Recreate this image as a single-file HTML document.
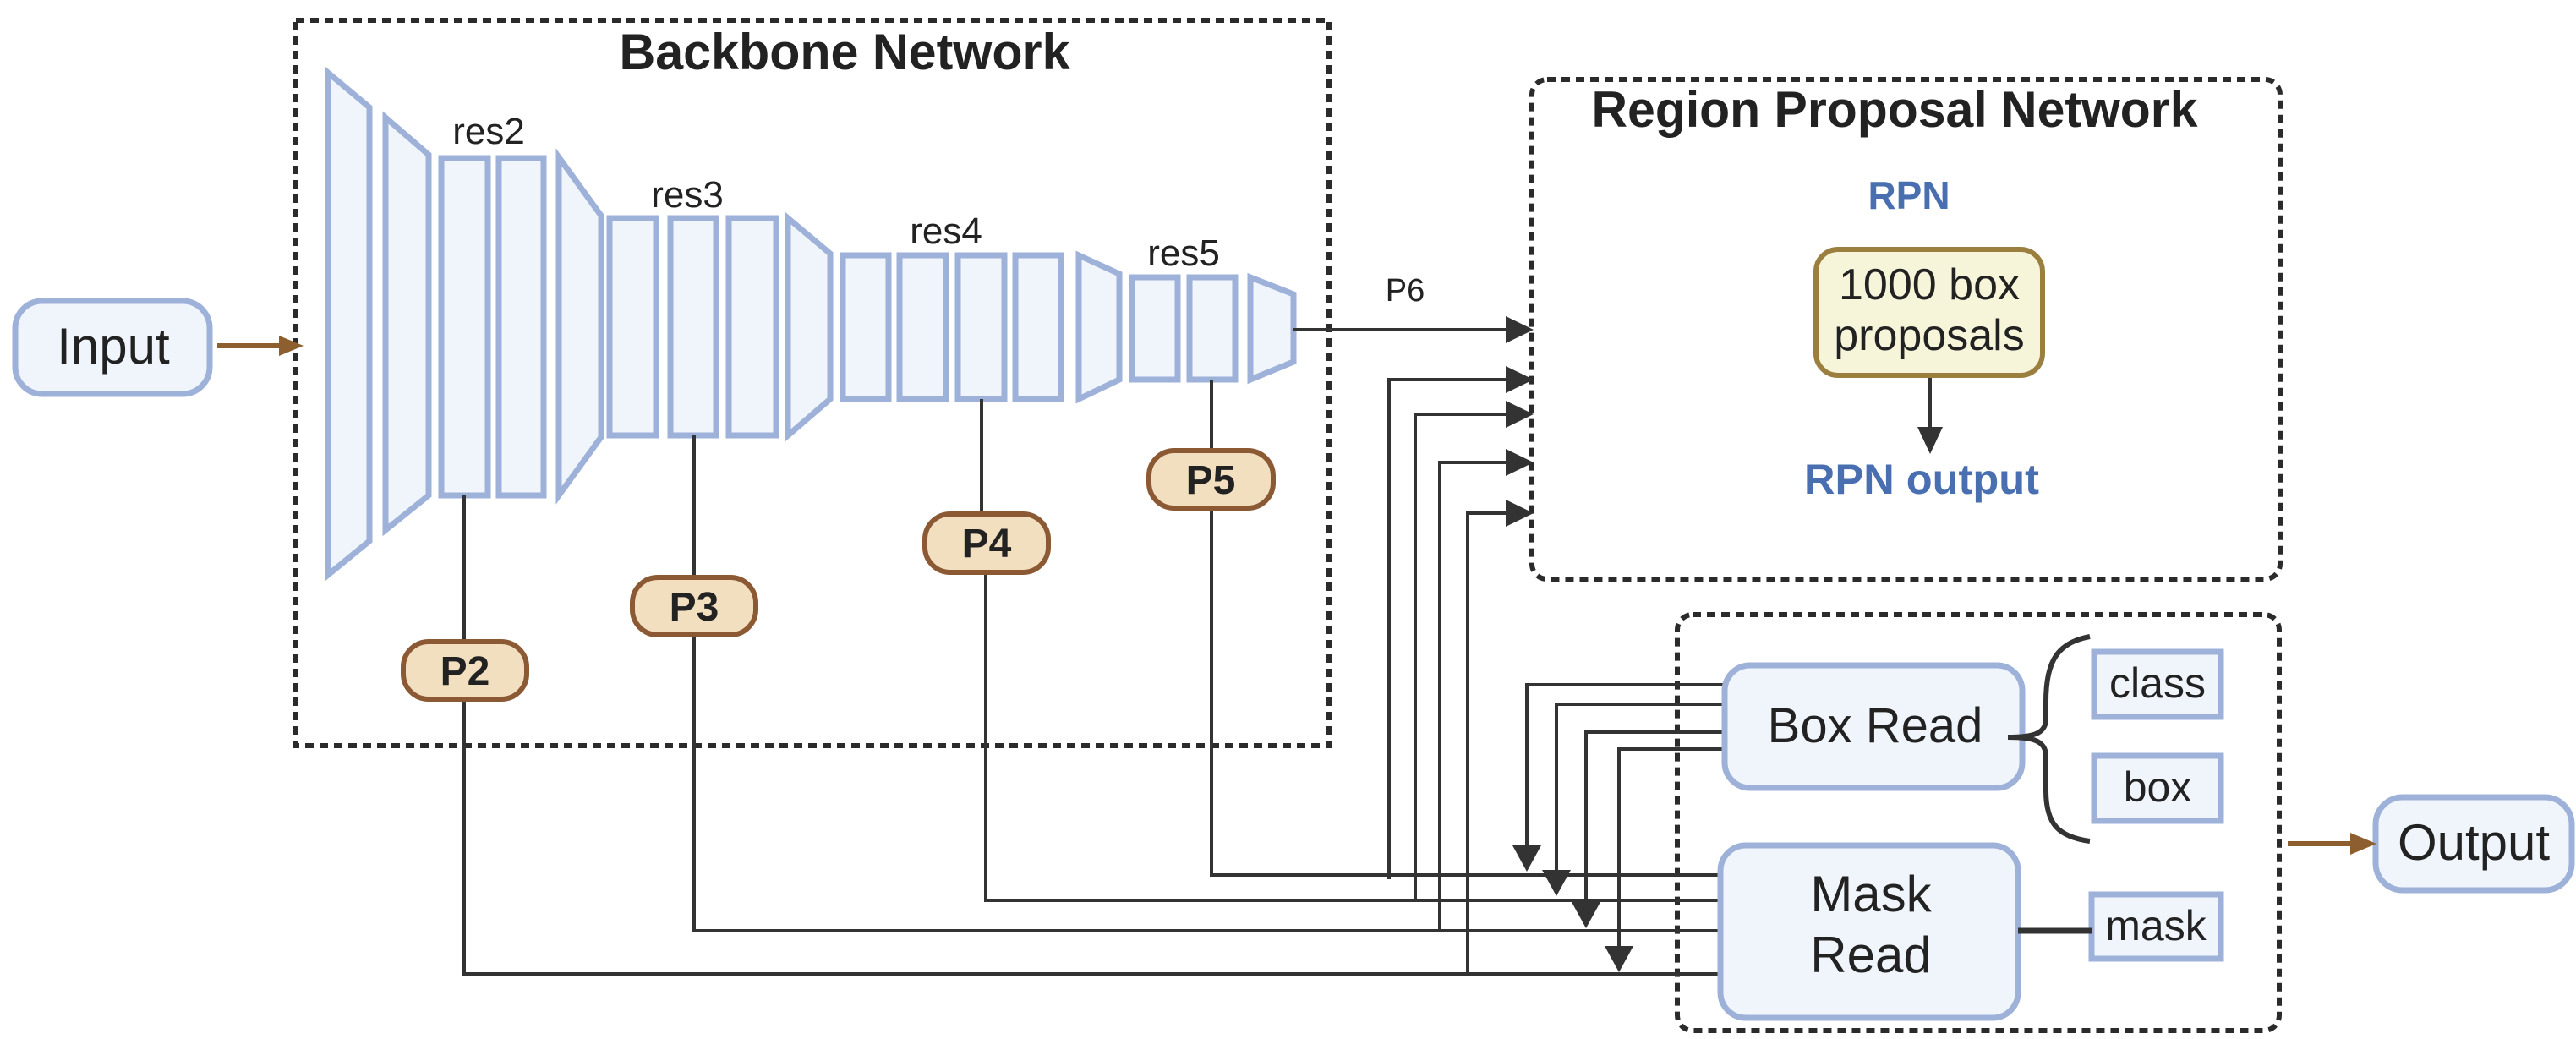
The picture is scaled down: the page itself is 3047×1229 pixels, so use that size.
<!DOCTYPE html>
<html><head><meta charset="utf-8"><style>
html,body{margin:0;padding:0;background:#fff;}
svg{display:block;}
text{font-family:"Liberation Sans",sans-serif;fill:#222;}
</style></head><body>
<svg width="3047" height="1229" viewBox="0 0 3047 1229" xmlns="http://www.w3.org/2000/svg">
<g fill="none" stroke="#2b2b2b" stroke-width="6" stroke-dasharray="10 7">
<rect x="350" y="24" width="1222" height="858"/>
<rect x="1812" y="94" width="885" height="591" rx="18"/>
<rect x="1984" y="727" width="712" height="492" rx="18"/>
</g>
<text x="999" y="82" font-size="60" font-weight="bold" text-anchor="middle" textLength="533" lengthAdjust="spacingAndGlyphs">Backbone Network</text>
<text x="2241" y="150" font-size="60" font-weight="bold" text-anchor="middle" textLength="717" lengthAdjust="spacingAndGlyphs">Region Proposal Network</text>

<g fill="#eff5fb" stroke="#9db1d9" stroke-width="7" stroke-linejoin="miter">
<polygon points="388,86 437,127 437,640 388,680"/>
<polygon points="456,139 507,183 507,586 456,627"/>
<rect x="522" y="187" width="55" height="399"/>
<rect x="590" y="187" width="53" height="399"/>
<polygon points="661,186 711,255 711,517 661,586"/>
<rect x="721" y="258" width="55" height="257"/>
<rect x="793" y="258" width="54" height="257"/>
<rect x="862" y="258" width="56" height="257"/>
<polygon points="932,258 982,300 982,472 932,515"/>
<rect x="997" y="302" width="54" height="170"/>
<rect x="1064" y="302" width="55" height="170"/>
<rect x="1133" y="302" width="55" height="170"/>
<rect x="1201" y="302" width="54" height="170"/>
<polygon points="1276,302 1324,324 1324,449 1276,472"/>
<rect x="1339" y="328" width="54" height="121"/>
<rect x="1407" y="328" width="54" height="121"/>
<polygon points="1479,328 1530,348 1530,428 1479,449"/>
</g>
<g font-size="44" text-anchor="middle">
<text x="578" y="170">res2</text>
<text x="813" y="245">res3</text>
<text x="1119" y="288">res4</text>
<text x="1400" y="314">res5</text>
</g>

<rect x="18" y="356" width="230" height="110" rx="32" fill="#eff5fb" stroke="#9db1d9" stroke-width="7"/>
<text x="134" y="430" font-size="60" text-anchor="middle">Input</text>
<line x1="257" y1="409" x2="335" y2="409" stroke="#8e5f2e" stroke-width="6"/>
<polygon points="330,397 359,409 330,421" fill="#8e5f2e"/>

<g stroke="#333" stroke-width="4" fill="none">
<line x1="549" y1="586" x2="549" y2="757"/>
<polyline points="549,828 549,1152 2033,1152"/>
<line x1="821" y1="515" x2="821" y2="681"/>
<polyline points="821,753 821,1101 2033,1101"/>
<line x1="1161" y1="472" x2="1161" y2="606"/>
<polyline points="1166,679 1166,1065 2033,1065"/>
<line x1="1433" y1="449" x2="1433" y2="531"/>
<polyline points="1433,603 1433,1035 2033,1035"/>
<line x1="1530" y1="390" x2="1785" y2="390"/>
<polyline points="1643,1040 1643,449 1785,449"/>
<polyline points="1674,1065 1674,490 1785,490"/>
<polyline points="1703,1101 1703,547 1785,547"/>
<polyline points="1736,1152 1736,607 1785,607"/>
<polyline points="2038,810 1806,810 1806,1005"/>
<polyline points="2038,833 1841,833 1841,1035"/>
<polyline points="2038,866 1876,866 1876,1072"/>
<polyline points="2038,886 1915,886 1915,1122"/>
<line x1="2283" y1="445" x2="2283" y2="510"/>
</g>
<g fill="#333">
<polygon points="1781,374 1814,390 1781,406"/>
<polygon points="1781,433 1814,449 1781,465"/>
<polygon points="1781,474 1814,490 1781,506"/>
<polygon points="1781,531 1814,547 1781,563"/>
<polygon points="1781,591 1814,607 1781,623"/>
<polygon points="1789,1000 1823,1000 1806,1031"/>
<polygon points="1824,1029 1858,1029 1841,1060"/>
<polygon points="1859,1067 1893,1067 1876,1098"/>
<polygon points="1898,1119 1932,1119 1915,1150"/>
<polygon points="2268,505 2298,505 2283,537"/>
</g>
<text x="1662" y="356" font-size="38" text-anchor="middle">P6</text>

<g fill="#f2dfc0" stroke="#8b5a35" stroke-width="6">
<rect x="477" y="759" width="146" height="68" rx="30"/>
<rect x="748" y="683" width="146" height="68" rx="30"/>
<rect x="1094" y="608" width="146" height="69" rx="30"/>
<rect x="1359" y="533" width="147" height="68" rx="30"/>
</g>
<g font-size="48" font-weight="bold" text-anchor="middle">
<text x="550" y="810">P2</text>
<text x="821" y="734">P3</text>
<text x="1167" y="659">P4</text>
<text x="1432" y="584">P5</text>
</g>

<text x="2258" y="247" font-size="46" font-weight="bold" text-anchor="middle" style="fill:#4a6fb0">RPN</text>
<rect x="2148" y="295" width="268" height="149" rx="26" fill="#f6f5da" stroke="#9a7f3e" stroke-width="6"/>
<text x="2282" y="354" font-size="52" text-anchor="middle">1000 box</text>
<text x="2282" y="414" font-size="52" text-anchor="middle">proposals</text>
<text x="2273" y="584" font-size="50" font-weight="bold" text-anchor="middle" style="fill:#4a6fb0" textLength="278" lengthAdjust="spacingAndGlyphs">RPN output</text>

<g fill="#eff5fb" stroke="#9db1d9" stroke-width="7">
<rect x="2040" y="787" width="352" height="145" rx="30"/>
<rect x="2035" y="1000" width="352" height="204" rx="30"/>
<rect x="2477" y="771" width="150" height="77"/>
<rect x="2477" y="894" width="150" height="77"/>
<rect x="2474" y="1058" width="153" height="76"/>
<rect x="2810" y="943" width="232" height="110" rx="32"/>
</g>
<text x="2218" y="878" font-size="58" text-anchor="middle">Box Read</text>
<text x="2213" y="1078" font-size="60" text-anchor="middle">Mask</text>
<text x="2213" y="1150" font-size="60" text-anchor="middle">Read</text>
<text x="2552" y="825" font-size="50" text-anchor="middle">class</text>
<text x="2552" y="948" font-size="50" text-anchor="middle">box</text>
<text x="2550" y="1112" font-size="50" text-anchor="middle">mask</text>
<text x="2926" y="1017" font-size="60" text-anchor="middle">Output</text>
<path d="M2472,753 C2435,760 2420,780 2420,830 L2420,850 C2420,868 2405,872 2375,872 C2405,872 2420,876 2420,895 L2420,935 C2420,975 2435,990 2472,995" fill="none" stroke="#333" stroke-width="6"/>
<line x1="2387" y1="1101" x2="2474" y2="1101" stroke="#333" stroke-width="7"/>
<line x1="2706" y1="998" x2="2785" y2="998" stroke="#8e5f2e" stroke-width="6"/>
<polygon points="2780,985 2811,998 2780,1011" fill="#8e5f2e"/>
</svg>
</body></html>
